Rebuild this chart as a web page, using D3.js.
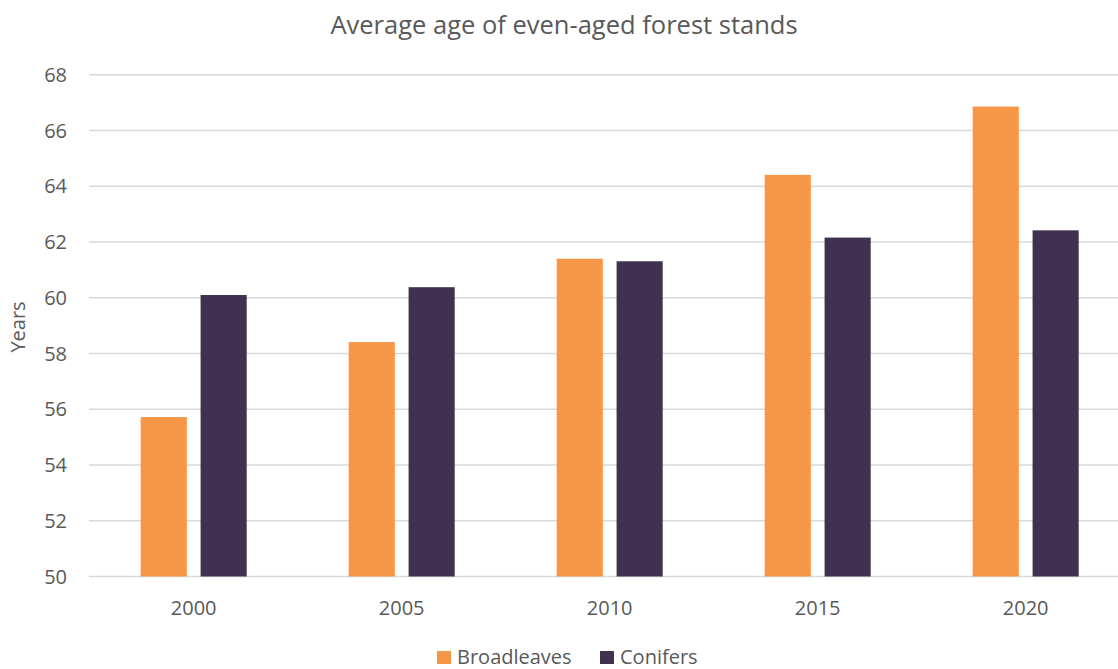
<!DOCTYPE html>
<html><head><meta charset="utf-8">
<script src="https://cdn.jsdelivr.net/npm/d3@7"></script>
<style>body{margin:0;background:#fff;} svg{display:block;font-family:"Open Sans",sans-serif;}</style>
</head><body>
<svg id="c" width="1118" height="669"></svg>
<script>
const categories = ["2000","2005","2010","2015","2020"];
const seriesNames = ["Broadleaves","Conifers"];
const broadleaves = [55.72, 58.41, 61.40, 64.41, 66.86];
const conifers = [60.10, 60.38, 61.31, 62.16, 62.42];
const yTicks = [50,52,54,56,58,60,62,64,66,68];
const colors = ["#F79646","#403151"];

const svg = d3.select("#c");
const x0 = d3.scaleBand().domain(categories).range([89.7,1129.7]).paddingInner(0).paddingOuter(0);
const x1 = d3.scaleBand().domain(seriesNames).range([x0.bandwidth()/2-53, x0.bandwidth()/2+53]).paddingInner(0.23);
const y = d3.scaleLinear().domain([50,68]).range([576.5,74.8]);

// gridlines
svg.append("g").selectAll("line").data(yTicks).join("line")
  .attr("x1",89).attr("x2",1118)
  .attr("y1",d=>y(d)).attr("y2",d=>y(d))
  .attr("stroke","#d9d9d9").attr("stroke-width",1.4);

// y tick labels
svg.append("g").selectAll("text").data(yTicks).join("text")
  .attr("x",67).attr("y",d=>y(d)).attr("dy","0.36em")
  .attr("text-anchor","end").attr("font-size",20).attr("fill","#595959")
  .text(d=>d);

// bars
const data = categories.map((c,i)=>({c, vals:[broadleaves[i],conifers[i]]}));
const g = svg.append("g").selectAll("g").data(data).join("g")
  .attr("transform",d=>`translate(${x0(d.c)},0)`);
g.selectAll("rect").data(d=>d.vals.map((v,j)=>({s:seriesNames[j],v,j}))).join("rect")
  .attr("x",d=>x1(d.s)).attr("width",x1.bandwidth())
  .attr("y",d=>y(d.v)).attr("height",d=>y(50)-y(d.v))
  .attr("fill",d=>colors[d.j]);

// x labels
svg.append("g").selectAll("text").data(categories).join("text")
  .attr("x",d=>x0(d)+x0.bandwidth()/2).attr("y",615)
  .attr("text-anchor","middle").attr("font-size",20).attr("fill","#595959")
  .text(d=>d);

// title
svg.append("text").attr("x",564).attr("y",34).attr("text-anchor","middle")
  .attr("font-size",25.5).attr("fill","#595959").text("Average age of even-aged forest stands");

// y axis label
svg.append("text").attr("transform","translate(25,327) rotate(-90)")
  .attr("text-anchor","middle").attr("font-size",20).attr("fill","#595959").text("Years");

// legend
const legX = [437, 600];
const leg = svg.append("g").selectAll("g").data(seriesNames).join("g")
  .attr("transform",(d,i)=>`translate(${legX[i]},651)`);
leg.append("rect").attr("width",14).attr("height",13).attr("fill",(d,i)=>colors[i]);
leg.append("text").attr("x",20).attr("y",12.5)
  .attr("font-size",20).attr("fill","#595959").text(d=>d);
</script>
</body></html>
